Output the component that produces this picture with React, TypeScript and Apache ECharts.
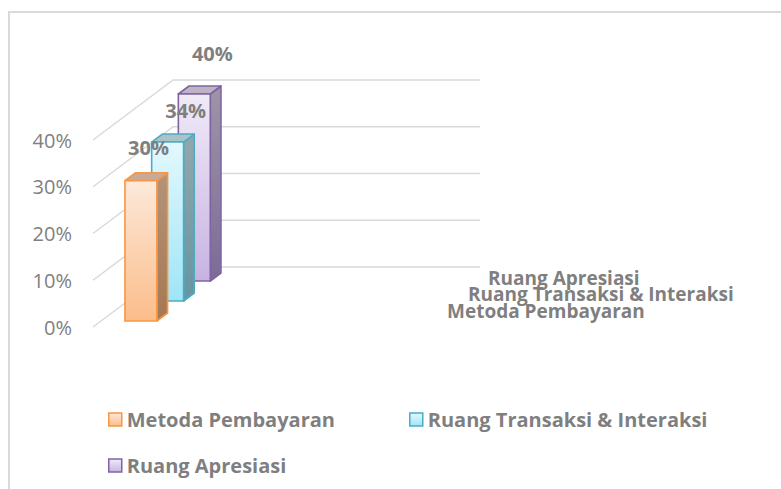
import React, { useEffect, useRef } from "react";
import * as echarts from "echarts";

// ---- data ----
const categories = [""];
const seriesNames = ["Metoda Pembayaran", "Ruang Transaksi & Interaksi", "Ruang Apresiasi"];
const seriesValues = [30, 34, 40];
const yTicks = [0, 10, 20, 30, 40];

// ---- style / layout ----
const FONT = "Open Sans";
const TEXT_COLOR = "#7f7f7f";
const palette = [
  { border: "#f79646", frontTop: "#fde9da", frontBottom: "#fbbd8a", sideTop: "#b3937a", sideBottom: "#a67852", top: "#c6ab98" },
  { border: "#4bacc6", frontTop: "#e3f8fd", frontBottom: "#9fe5f7", sideTop: "#94a7ab", sideBottom: "#6695a1", top: "#aac3c7" },
  { border: "#8064a2", frontTop: "#f0eaf8", frontBottom: "#c7b3e2", sideTop: "#9d95a7", sideBottom: "#7c6b97", top: "#bdb5c5" },
];
const ROW_DX = 26.7;
const ROW_DY = -20;
const ROWS = 3;
const BAR_START = 0.078;
const BAR_WIDTH = 0.104;
const BAR_D0 = 0.3;
const BAR_D1 = 0.7;
const labelOffsets = [
  [23.5, -33],
  [34, -31.5],
  [34, -41],
];
const rowLabelOffsets = [
  [47, -16.5],
  [68, -33],
  [88, -49.5],
];

const grad = (a: string, b: string) =>
  new echarts.graphic.LinearGradient(0, 0, 0, 1, [
    { offset: 0, color: a },
    { offset: 1, color: b },
  ]);

function makeBarSeries(i: number) {
  const p = palette[i];
  return {
    type: "custom",
    name: seriesNames[i],
    z: 2,
    itemStyle: { color: p.frontBottom, borderColor: p.border },
    data: [[0, seriesValues[i]]],
    encode: { x: 0, y: 1 },
    renderItem: (params: any, api: any) => {
      const cs = params.coordSys;
      const cat = api.value(0);
      const val = api.value(1);
      const base = api.coord([cat, 0]);
      const topP = api.coord([cat, val]);
      const band = api.size([1, 0])[0];
      const bandLeft = base[0] - band / 2;
      const w = band * BAR_WIDTH;
      const dx0 = (i + BAR_D0) * ROW_DX;
      const dy0 = (i + BAR_D0) * ROW_DY;
      const ddx = (BAR_D1 - BAR_D0) * ROW_DX;
      const ddy = (BAR_D1 - BAR_D0) * ROW_DY;
      const fx = bandLeft + band * BAR_START + dx0;
      const fyB = base[1] + dy0;
      const fyT = topP[1] + dy0;
      const lw = 1.6;
      return {
        type: "group",
        children: [
          {
            type: "polygon",
            shape: {
              points: [
                [fx + w, fyT],
                [fx + w + ddx, fyT + ddy],
                [fx + w + ddx, fyB + ddy],
                [fx + w, fyB],
              ],
            },
            style: { fill: grad(p.sideTop, p.sideBottom), stroke: p.border, lineWidth: lw, lineJoin: "round" },
          },
          {
            type: "polygon",
            shape: {
              points: [
                [fx, fyT],
                [fx + ddx, fyT + ddy],
                [fx + w + ddx, fyT + ddy],
                [fx + w, fyT],
              ],
            },
            style: { fill: p.top, stroke: p.border, lineWidth: lw, lineJoin: "round" },
          },
          {
            type: "rect",
            shape: { x: fx, y: fyT, width: w, height: fyB - fyT },
            style: { fill: grad(p.frontTop, p.frontBottom), stroke: p.border, lineWidth: lw },
          },
          {
            type: "text",
            z2: 100,
            x: fx + labelOffsets[i][0],
            y: fyT + labelOffsets[i][1],
            style: {
              text: val + "%",
              fill: TEXT_COLOR,
              fontSize: 20,
              fontWeight: "bold",
              fontFamily: FONT,
              align: "center",
              verticalAlign: "middle",
            },
          },
          {
            type: "text",
            z2: 100,
            x: cs.x + cs.width + rowLabelOffsets[i][0],
            y: base[1] + rowLabelOffsets[i][1],
            style: {
              text: seriesNames[i],
              fill: TEXT_COLOR,
              fontSize: 19,
              lineHeight: 14,
              fontWeight: "bold",
              fontFamily: FONT,
              align: "left",
              verticalAlign: "middle",
            },
          },
        ],
      };
    },
  };
}

function makeLegend(i: number, left: number, top: number) {
  const p = palette[i];
  return {
    left,
    top,
    padding: 0,
    icon: "rect",
    itemWidth: 13,
    itemHeight: 13,
    selectedMode: false,
    textStyle: { color: TEXT_COLOR, fontSize: 20, fontWeight: "bold", fontFamily: FONT },
    data: [
      {
        name: seriesNames[i],
        itemStyle: { color: grad(p.frontTop, p.frontBottom), borderColor: p.border, borderWidth: 1.5 },
      },
    ],
  };
}

export default function App() {
  const ref = useRef<HTMLDivElement>(null);
  useEffect(() => {
    if (!ref.current) return;
    const chart = echarts.init(ref.current, undefined, { renderer: "svg" });
    const gridSeries = {
      type: "custom",
      name: "grid",
      z: 1,
      silent: true,
      data: yTicks.map((t) => [0, t]),
      encode: { x: 0, y: 1 },
      renderItem: (params: any, api: any) => {
        const cs = params.coordSys;
        const y = api.coord([0, api.value(1)])[1];
        const left = cs.x;
        const right = cs.x + cs.width;
        const bx = ROWS * ROW_DX;
        const by = ROWS * ROW_DY;
        return {
          type: "polyline",
          shape: {
            points: [
              [left, y],
              [left + bx, y + by],
              [right + bx, y + by],
            ],
          },
          style: { stroke: "#d9d9d9", lineWidth: 1.5, fill: "none" },
        };
      },
    };
    chart.setOption({
      animation: false,
      backgroundColor: "#ffffff",
      grid: { left: 93, right: 381, top: 140, bottom: 162, containLabel: false },
      xAxis: {
        type: "category",
        data: categories,
        show: false,
      },
      yAxis: {
        type: "value",
        min: 0,
        max: 40,
        interval: 10,
        axisLine: { show: false },
        axisTick: { show: false },
        splitLine: { show: false },
        axisLabel: {
          formatter: "{value}%",
          color: "#808080",
          fontSize: 20,
          fontFamily: FONT,
          margin: 21,
        },
      },
      legend: [makeLegend(0, 108, 409.5), makeLegend(1, 409, 409.5), makeLegend(2, 108, 455.5)],
      graphic: [
        {
          type: "rect",
          silent: true,
          shape: { x: 9, y: 12, width: 900, height: 600 },
          style: { fill: "none", stroke: "#d9d9d9", lineWidth: 2 },
        },
      ],
      series: [gridSeries, makeBarSeries(2), makeBarSeries(1), makeBarSeries(0)],
    });
    return () => chart.dispose();
  }, []);
  return (
    <div
      ref={ref}
      style={{ position: "absolute", left: 0, top: 0, width: 781, height: 489 }}
    />
  );
}
